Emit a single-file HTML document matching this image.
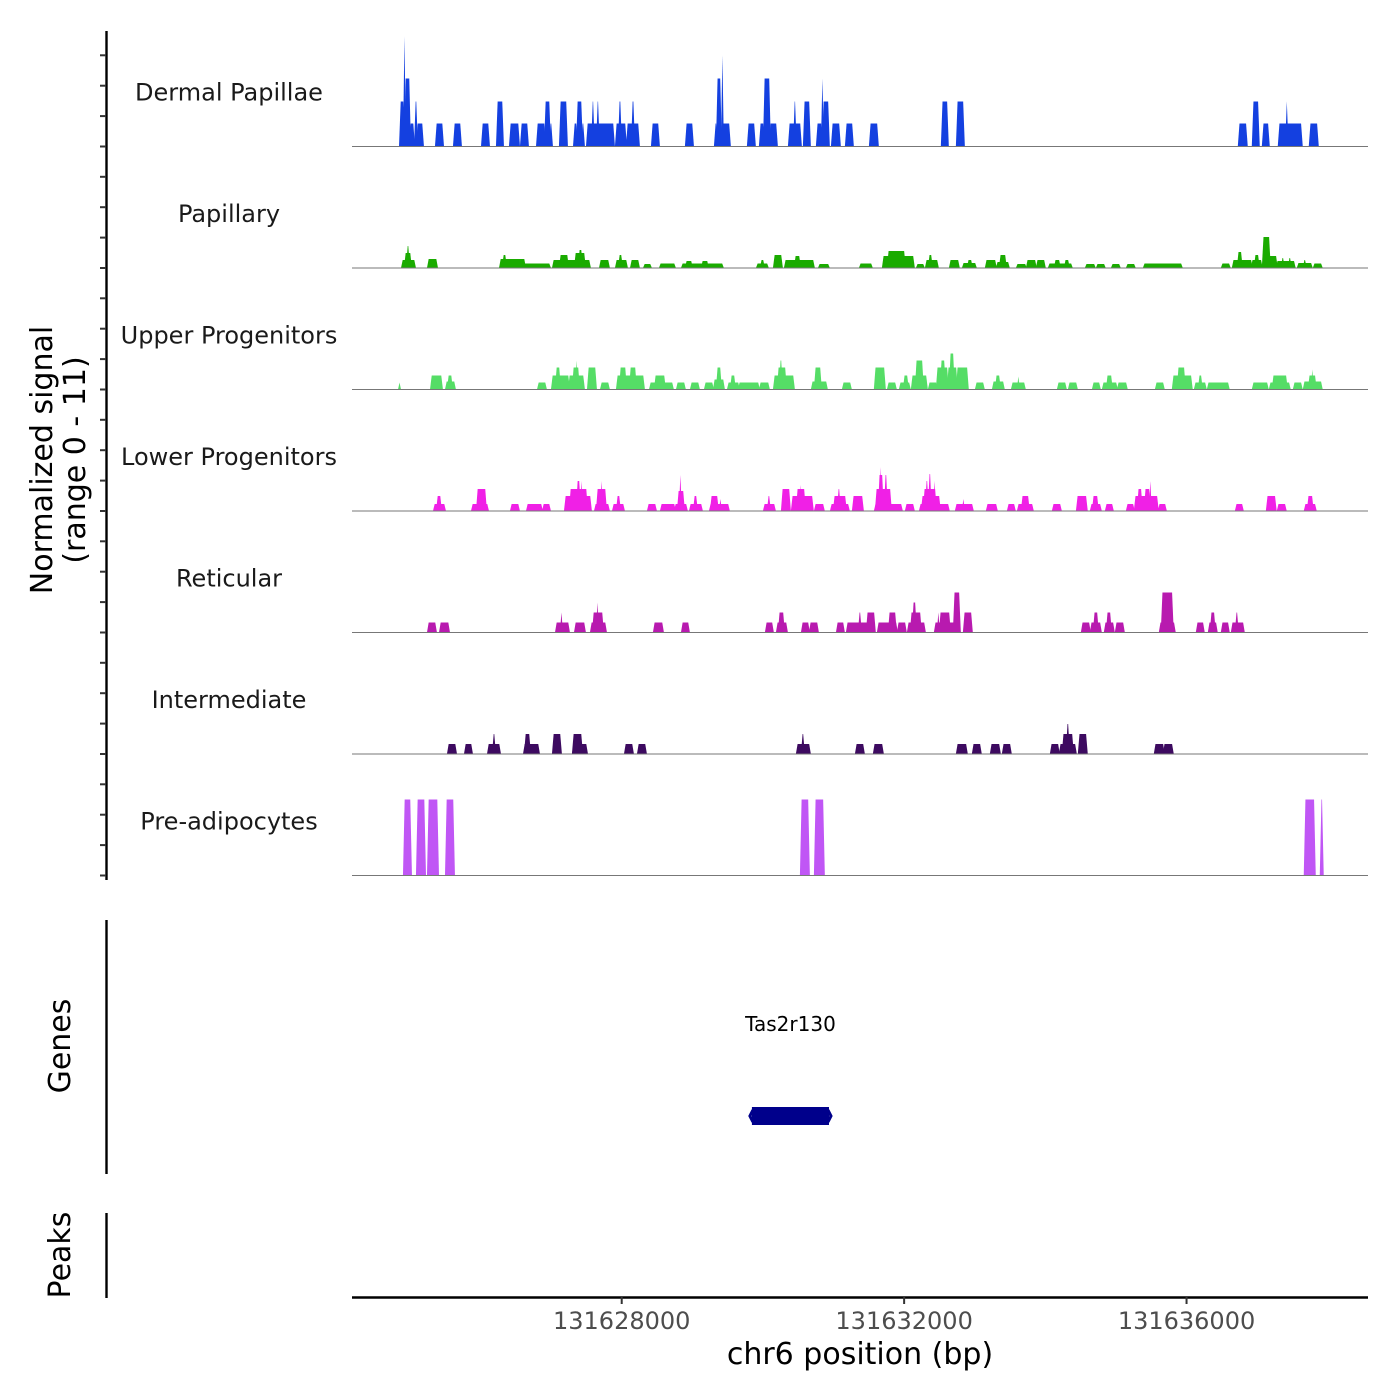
<!DOCTYPE html>
<html><head><meta charset="utf-8"><style>
html,body{margin:0;padding:0;background:#fff;}
svg{display:block;font-family:"DejaVu Sans","Liberation Sans",sans-serif;}
</style></head><body>
<svg id="chart" width="1400" height="1400" viewBox="0 0 1400 1400" xmlns="http://www.w3.org/2000/svg">
<rect x="0" y="0" width="1400" height="1400" fill="#fff"/>
<g id="tracks"></g>
<g id="axes"></g>
</svg>
<script>
const regionStart = 131624180;
const regionLength = 14390;
const xTickValues = [131628000, 131632000, 131636000];
const xTickLabels = ["131628000", "131632000", "131636000"];
const trackNames = ["Dermal Papillae","Papillary","Upper Progenitors","Lower Progenitors","Reticular","Intermediate","Pre-adipocytes"];
const trackColors = ["#1440e0","#1aab00","#55dd66","#f020e6","#b81aaf","#3d0a60","#c056f5"];
const yMax = 11;
// segments: [start offset bp, end offset bp, normalized signal]
const dermalPapillae = [[680,736,4.5],[736,750,11],[750,821,6.8],[821,878,2.3],[892,920,4.5],[920,1005,2.3],[1189,1289,2.3],[1444,1543,2.3],[1841,1940,2.3],[2053,2138,4.5],[2237,2365,2.3],[2393,2492,2.3],[2620,2733,2.3],[2733,2804,4.5],[2804,2832,2.3],[2945,3044,4.5],[3144,3186,2.3],[3186,3257,4.5],[3257,3285,2.3],[3328,3710,2.3],[3400,3425,4.5],[3470,3495,4.5],[3738,3880,2.3],[3780,3810,4.5],[3894,4064,2.3],[3965,3995,4.5],[4248,4347,2.3],[4729,4829,2.3],[5140,5168,2.3],[5168,5225,6.8],[5239,5253,9.1],[5225,5352,2.3],[5607,5706,2.3],[5777,5834,2.3],[5834,5919,6.8],[5919,6018,2.3],[6188,6358,2.3],[6260,6285,4.5],[6400,6485,4.5],[6584,6655,2.3],[6655,6670,6.8],[6670,6754,4.5],[6797,6910,2.3],[6995,7094,2.3],[7335,7448,2.3],[8354,8439,4.5],[8567,8666,4.5],[12560,12673,2.3],[12758,12843,4.5],[12900,12985,2.3],[13126,13452,2.3],[13230,13250,4.5],[13565,13679,2.3]];
const papillary = [[708,892,0.8],[750,835,1.5],[779,807,2.2],[1076,1204,0.9],[2096,2804,0.45],[2096,2450,0.9],[2138,2181,1.3],[2846,3370,0.8],[2945,3059,1.3],[3158,3299,1.5],[3214,3257,1.8],[3512,3639,0.8],[3738,3894,0.8],[3781,3823,1.3],[3951,4064,0.8],[4135,4234,0.4],[4361,4574,0.45],[4673,5253,0.45],[4729,4814,0.7],[4956,5041,0.7],[5735,5890,0.45],[5791,5834,0.8],[5976,6089,1.3],[6131,6542,0.8],[6273,6344,1.2],[6613,6754,0.4],[7193,7363,0.45],[7519,7958,1.2],[7590,7830,1.7],[8000,8100,0.4],[8128,8298,0.8],[8170,8213,1.3],[8468,8595,0.8],[8652,8836,0.5],[8722,8779,0.8],[8977,9119,0.8],[9133,9303,0.6],[9176,9261,1.3],[9416,9544,0.4],[9558,9685,0.8],[9699,9813,0.8],[9869,10195,0.45],[9954,10025,0.8],[10096,10153,0.8],[10393,10521,0.4],[10549,10662,0.4],[10762,10875,0.4],[10974,11087,0.4],[11215,11753,0.45],[12319,12432,0.45],[12475,12744,0.8],[12546,12602,1.6],[12744,12885,0.8],[12786,12843,1.3],[12900,12999,3.1],[12900,13098,1.2],[13098,13352,0.7],[13169,13197,1.0],[13268,13296,1.0],[13395,13594,0.5],[13480,13508,0.8],[13622,13735,0.45]];
const upperProgenitors = [[666,680,0.7],[1119,1274,1.4],[1331,1458,0.8],[1359,1416,1.4],[2634,2747,0.7],[2832,3073,1.4],[2889,2945,2.2],[3073,3285,1.4],[3129,3214,2.2],[3172,3186,2.9],[3342,3455,2.2],[3526,3639,0.7],[3752,4135,1.4],[3795,3880,2.2],[3937,4021,2.2],[4220,4545,0.7],[4290,4432,1.4],[4602,4715,0.7],[4800,4914,0.7],[4998,5112,0.7],[5126,5268,1.0],[5168,5225,2.2],[5324,5480,0.7],[5367,5423,1.4],[5480,5763,0.7],[5777,5905,0.7],[5976,6259,1.4],[6032,6145,2.2],[6060,6089,2.9],[6513,6726,0.8],[6556,6641,2.2],[6952,7066,0.7],[7405,7547,2.2],[7590,7703,0.7],[7759,7901,0.7],[7816,7873,1.4],[7929,8142,1.4],[7986,8085,2.9],[8170,8283,0.7],[8283,8439,2.2],[8340,8397,2.9],[8439,8567,2.2],[8468,8524,3.6],[8567,8722,2.2],[8836,8949,0.7],[9077,9232,0.8],[9119,9176,1.4],[9346,9530,0.7],[9431,9445,1.3],[9997,10111,0.7],[10153,10267,0.7],[10493,10592,0.7],[10634,10833,0.7],[10691,10762,1.4],[10847,10974,0.7],[11385,11498,0.7],[11625,11894,1.4],[11696,11795,2.2],[11937,12093,0.7],[11994,12036,1.4],[12121,12418,0.7],[12758,12971,0.7],[12999,13282,0.7],[13041,13240,1.4],[13339,13452,0.7],[13480,13735,0.8],[13552,13650,1.4],[13594,13608,2.0]];
const lowerProgenitors = [[1161,1317,0.7],[1204,1260,1.5],[1699,1926,0.7],[1770,1897,2.2],[2251,2365,0.7],[2478,2690,0.7],[2705,2804,0.7],[3016,3384,1.5],[3087,3328,2.2],[3186,3228,3.0],[3243,3257,3.0],[3441,3639,0.7],[3469,3597,2.2],[3526,3540,3.0],[3696,3852,0.7],[3752,3795,1.5],[4191,4305,0.7],[4375,4574,0.7],[4574,4743,0.7],[4616,4701,2.0],[4644,4658,3.6],[4786,4956,0.7],[4843,4885,1.5],[5069,5338,0.7],[5083,5182,1.5],[5211,5225,1.2],[5834,5990,0.7],[5890,5919,1.5],[6089,6202,2.2],[6230,6527,1.5],[6301,6414,2.2],[6344,6358,2.6],[6556,6683,0.7],[6783,7037,0.7],[6825,6995,1.5],[6882,6910,2.2],[7094,7236,1.5],[7405,7788,0.7],[7420,7632,2.2],[7462,7519,3.6],[7476,7491,4.4],[7547,7576,3.6],[7844,7958,0.7],[8043,8453,0.7],[8071,8326,1.5],[8100,8269,2.2],[8128,8156,3.0],[8170,8198,3.7],[8241,8255,3.0],[8552,8793,0.7],[8652,8666,1.2],[8991,9133,0.7],[9289,9388,0.7],[9431,9643,0.7],[9487,9586,1.5],[9926,10040,0.7],[10267,10407,1.5],[10464,10606,0.7],[10493,10564,1.5],[10677,10776,0.7],[10974,11073,0.7],[11087,11413,1.5],[11130,11186,2.2],[11229,11300,2.2],[11300,11314,3.0],[11427,11527,0.7],[12518,12617,0.7],[12957,13083,1.5],[13112,13225,0.7],[13494,13650,0.7],[13537,13608,1.5]];
const reticular = [[1076,1189,1],[1246,1374,1],[2889,3073,1],[2959,2974,2],[3158,3299,1],[3384,3597,1],[3413,3554,2],[3469,3483,3],[4276,4404,1],[4673,4772,1],[5862,5961,1],[6018,6160,1],[6046,6117,2],[6372,6471,1],[6485,6599,1],[6868,6967,1],[7009,7363,1],[7179,7207,2],[7292,7405,2],[7448,7717,1],[7604,7703,2],[7731,7844,1],[7873,8114,1],[7915,8057,2],[7944,7986,3],[8255,8609,1],[8326,8468,2],[8298,8312,2],[8524,8609,4],[8666,8779,2],[10337,10450,1],[10464,10606,1],[10507,10564,2],[10662,10790,1],[10691,10748,2],[10818,10932,1],[11441,11653,1],[11469,11625,4],[11965,12064,1],[12135,12248,1],[12163,12220,2],[12319,12418,1],[12461,12631,1],[12518,12546,2]];
const intermediate = [[1359,1473,1],[1600,1699,1],[1926,2096,1],[1997,2025,2],[2436,2648,1],[2450,2520,2],[2846,2959,2],[3129,3328,1],[3129,3257,2],[3866,3979,1],[4050,4163,1],[6301,6485,1],[6372,6400,2],[7137,7250,1],[7391,7519,1],[8567,8708,1],[8793,8906,1],[9048,9176,1],[9218,9331,1],[9898,10011,1],[10025,10252,1],[10067,10210,2],[10124,10153,3],[10294,10407,2],[11370,11498,1],[11498,11625,1]];
const preAdipocytes = [[736,835,7.6],[920,1034,7.6],[1076,1218,7.6],[1331,1444,7.6],[6358,6471,7.6],[6556,6683,7.6],[13494,13636,7.6],[13721,13749,7.6]];
const geneNames = ["Tas2r130"];
const geneStarts = [5650];
const geneEnds = [6770];

const trackData = [dermalPapillae,papillary,upperProgenitors,lowerProgenitors,reticular,intermediate,preAdipocytes];
const NS = "http://www.w3.org/2000/svg";
const X0 = 352, X1 = 1368;
function xScale(off){ return X0 + off/regionLength*(X1-X0); }
const trackTop = 25, trackH = 121.5, trackPx = 110;
function baseY(i){ return trackTop + trackH*(i+1); }
function yScale(v, i){ return baseY(i) - v/yMax*trackPx; }
function mk(tag, attrs, parent){ const e=document.createElementNS(NS,tag); for(const k in attrs) e.setAttribute(k,attrs[k]); parent.appendChild(e); return e; }
const tg = document.getElementById('tracks');
const ax = document.getElementById('axes');

trackData.forEach((segs, i) => {
  const g = mk('g', {}, tg);
  
  
  const by = baseY(i);
  segs.forEach(s => {
    const a = xScale(s[0]), b = xScale(s[1]), t = yScale(s[2], i);
    const w = b - a, ins = Math.min(0.7, w/2);
    const p = mk('polygon', {points: `${a-1},${by} ${a+ins},${t} ${b-ins},${t} ${b+1},${by}`, fill: trackColors[i]}, g);
    
    
  });
  const bl = mk('line', {x1:X0, x2:X1, y1:by, y2:by, stroke:'#777', 'stroke-width':1}, g);
  
  
  const lab = mk('text', {x:229, y:by-46, 'text-anchor':'middle', 'font-size':24, fill:'#1a1a1a'}, g);
  lab.textContent = trackNames[i];
  
  
});

// left axis for signal
const la = mk('line', {x1:106.5, x2:106.5, y1:31, y2:880, stroke:'#000', 'stroke-width':2.4}, ax);


for (let i=0;i<7;i++){
  for (let k=0;k<4;k++){
    const y = baseY(i) - k*30.4;
    const t = mk('line', {x1:100, x2:106, y1:y, y2:y, stroke:'#333', 'stroke-width':2}, ax);
    
    
  }
}
const yt = mk('text', {transform:'translate(52,460) rotate(-90)', 'text-anchor':'middle', 'font-size':30, fill:'#000'}, ax);


const ts1 = mk('tspan', {x:0, y:0}, yt); ts1.textContent = 'Normalized signal';
const ts2 = mk('tspan', {x:0, y:33}, yt); ts2.textContent = '(range 0 - 11)';

// genes panel
const ga = mk('line', {x1:106.5, x2:106.5, y1:920, y2:1174, stroke:'#000', 'stroke-width':2.4}, ax);


const gt = mk('text', {transform:'translate(70,1046) rotate(-90)', 'text-anchor':'middle', 'font-size':30, fill:'#000'}, ax);
gt.textContent = 'Genes';


geneNames.forEach((n, j) => {
  const a = xScale(geneStarts[j]), b = xScale(geneEnds[j]);
  const r = mk('rect', {x:a+1, y:1107, width:b-a-2, height:18, fill:'#00008b'}, ax);
  
  
  const l = mk('path', {d:`M${a+2},1110 L${a-1},1116 L${a+2},1122 M${b-2},1110 L${b+1},1116 L${b-2},1122`, stroke:'#00008b', 'stroke-width':3, fill:'none'}, ax);
  
  
  const t = mk('text', {x:(a+b)/2, y:1031, 'text-anchor':'middle', 'font-size':20, fill:'#000'}, ax);
  t.textContent = n;
  
  
});

// peaks panel
const pa = mk('line', {x1:106.5, x2:106.5, y1:1213, y2:1298, stroke:'#000', 'stroke-width':2.4}, ax);


const pt = mk('text', {transform:'translate(70,1255) rotate(-90)', 'text-anchor':'middle', 'font-size':30, fill:'#000'}, ax);
pt.textContent = 'Peaks';



// x axis
const xl = mk('line', {x1:X0, x2:X1, y1:1297.5, y2:1297.5, stroke:'#000', 'stroke-width':2.4}, ax);


xTickValues.forEach((v, j) => {
  const x = xScale(v - regionStart);
  const t = mk('line', {x1:x, x2:x, y1:1297, y2:1304, stroke:'#333', 'stroke-width':2}, ax);
  
  
  const l = mk('text', {x:x, y:1329, 'text-anchor':'middle', 'font-size':24, fill:'#4d4d4d'}, ax);
  l.textContent = xTickLabels[j];
  
  
});
const xt = mk('text', {x:860, y:1364, 'text-anchor':'middle', 'font-size':30, fill:'#000'}, ax);
xt.textContent = 'chr6 position (bp)';


</script>
</body></html>
